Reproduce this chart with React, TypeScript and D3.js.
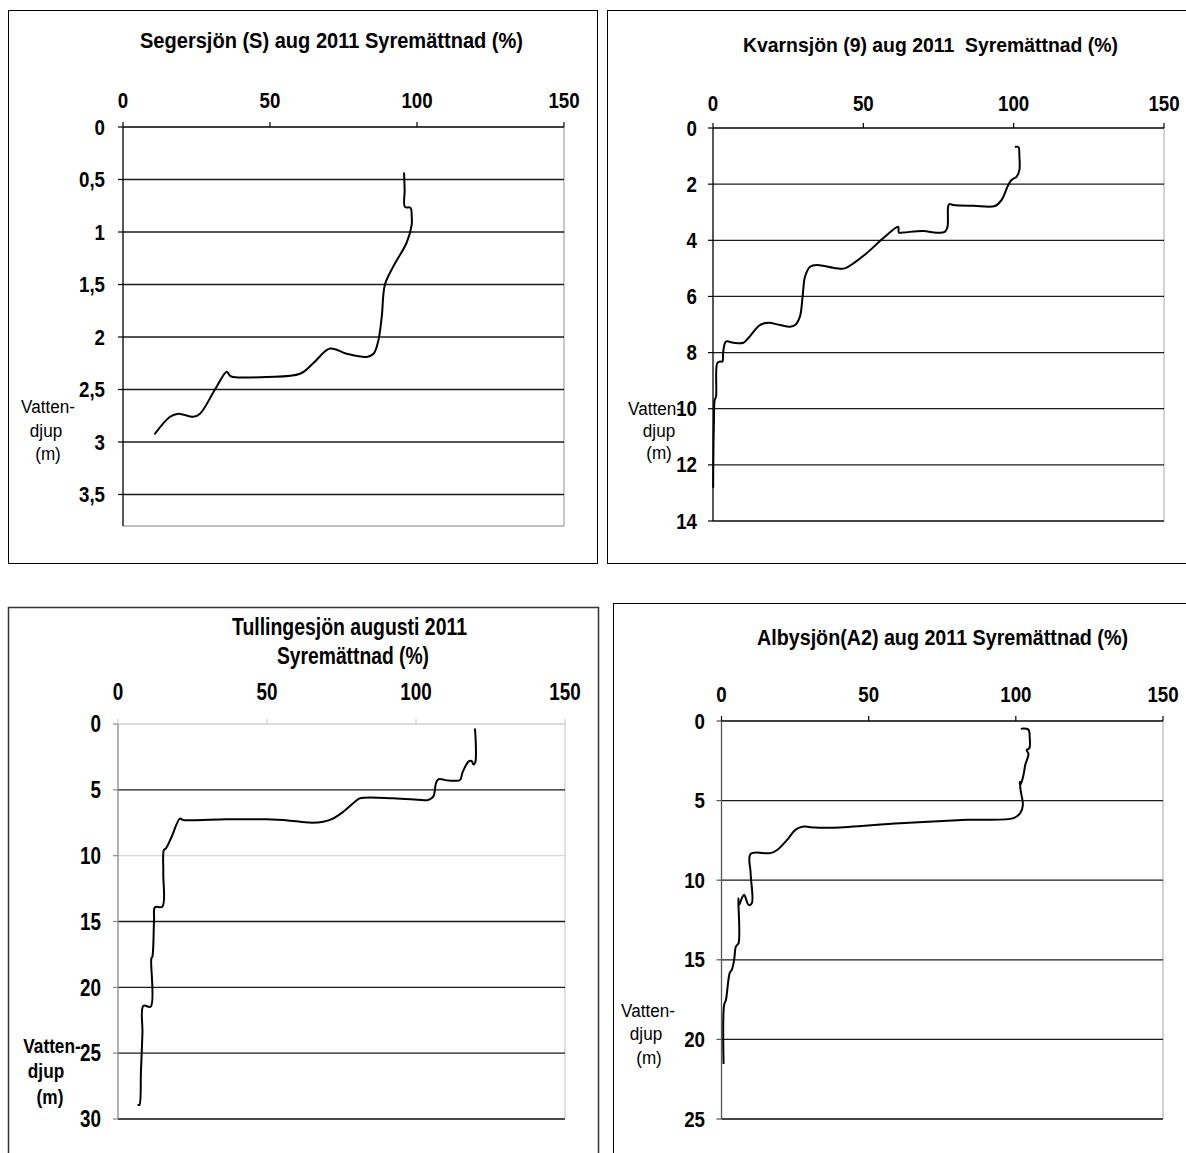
import React from 'react';
import * as d3 from 'd3';

// ---------- data ----------
const xTicks = [0, 50, 100, 150];

const segersjonOxygen = [95.6, 95.8, 95.9, 97.8, 98.2, 98.2, 96.5, 91.9, 89.1, 88.0, 86.8, 85.2, 82.9, 76.1, 70.4, 64.7, 60.2, 48.9, 37.5, 36.4, 35.3, 31.3, 26.2, 23.9, 18.8, 16.0, 10.9];
const segersjonDepth = [0.44, 0.60, 0.76, 0.77, 0.85, 0.93, 1.10, 1.33, 1.50, 1.81, 2.04, 2.16, 2.19, 2.16, 2.11, 2.25, 2.35, 2.38, 2.38, 2.37, 2.33, 2.50, 2.73, 2.76, 2.73, 2.76, 2.92];
const segersjonDepthTicks = [0, 0.5, 1, 1.5, 2, 2.5, 3, 3.5];

const kvarnsjonOxygen = [100.7, 101.6, 101.9, 101.9, 101.0, 99.3, 98.2, 96.0, 93.8, 86.6, 79.9, 78.6, 78.2, 78.0, 77.2, 74.4, 69.9, 63.3, 61.8, 61.6, 56.6, 51.1, 46.7, 43.9, 41.1, 34.5, 32.3, 30.6, 29.8, 28.9, 27.3, 25.6, 22.3, 18.4, 15.6, 11.7, 10.1, 6.8, 4.3, 3.4, 3.1, 2.3, 1.4, 1.0, 0.55, 0.33, 0.1, 0.05];
const kvarnsjonDepth = [0.67, 0.68, 1.0, 1.50, 1.73, 1.85, 2.03, 2.56, 2.78, 2.77, 2.74, 2.71, 2.80, 3.52, 3.69, 3.73, 3.67, 3.72, 3.72, 3.52, 3.93, 4.46, 4.82, 5.0, 5.0, 4.88, 4.94, 5.30, 6.01, 6.72, 7.02, 7.08, 7.02, 6.94, 7.02, 7.49, 7.65, 7.65, 7.61, 7.97, 8.32, 8.32, 8.38, 9.57, 9.69, 10.28, 11.95, 12.8];
const kvarnsjonDepthTicks = [0, 2, 4, 6, 8, 10, 12, 14];

const tullingesjonOxygen = [119.8, 120.1, 119.9, 119.3, 118.6, 117.6, 115.6, 114.8, 113.0, 110.9, 107.5, 106.7, 105.8, 104.1, 101.9, 92.4, 81.2, 79.5, 75.6, 72.3, 68.9, 64.4, 57.7, 49.9, 36.5, 21.9, 20.8, 18.0, 16.1, 15.4, 15.2, 14.9, 12.4, 12.1, 11.5, 11.2, 11.0, 8.5, 8.2, 7.7, 7.2, 6.8];
const tullingesjonDepth = [0.40, 1.8, 2.9, 3.08, 2.80, 2.86, 3.69, 4.25, 4.31, 4.30, 4.20, 4.50, 5.52, 5.77, 5.77, 5.64, 5.64, 5.90, 6.66, 7.16, 7.42, 7.49, 7.34, 7.24, 7.24, 7.29, 7.19, 8.56, 9.44, 9.57, 11.34, 13.87, 13.92, 14.88, 17.71, 17.79, 21.46, 21.41, 23.49, 26.40, 28.93, 28.93];
const tullingesjonDepthTicks = [0, 5, 10, 15, 20, 25, 30];

const albysjonOxygen = [102.0, 104.3, 104.7, 104.6, 103.7, 104.3, 103.2, 102.6, 102.0, 101.5, 101.3, 101.7, 102.4, 101.5, 99.2, 83.4, 60.7, 38.1, 30.2, 27.9, 25.1, 22.3, 18.9, 16.6, 9.9, 9.9, 10.3, 9.2, 7.7, 6.9, 6.0, 5.7, 5.8, 4.9, 4.3, 3.5, 2.8, 1.5, 0.9, 0.7];
const albysjonDepth = [0.48, 0.55, 1.0, 1.71, 1.82, 2.08, 2.76, 3.39, 3.81, 4.02, 3.81, 4.44, 5.27, 5.79, 6.10, 6.21, 6.42, 6.70, 6.67, 6.63, 6.84, 7.47, 8.1, 8.3, 8.35, 9.57, 11.45, 11.55, 10.92, 11.13, 11.55, 11.13, 13.95, 14.16, 15.0, 15.63, 15.82, 17.52, 17.83, 21.49];
const albysjonDepthTicks = [0, 5, 10, 15, 20, 25];

// ---------- helpers ----------
const FONT = "'Liberation Sans', Arial, sans-serif";

type PanelProps = {
  box: { x: number; y: number; w: number; h: number; stroke: string; sw: number };
  plot: { left: number; right: number; top: number; bottom: number };
  yMax: number;
  yTicks: number[];
  oxygen: number[];
  depth: number[];
  gridColor: (t: number) => string;
  axisTopColor: string;
  axisLeftColor: string;
  frameColor: string;
  titles: { text: string; x: number; w: number; y: number; size: number }[];
  xLabelY: number;
  yLabelRight: number;
  tickSize: number;
  tickSx: number;
  vLabels: { text: string; cx: number; y: number }[];
  vBold: boolean;
  vSize: number;
  vSx: number;
};

function Panel(p: PanelProps) {
  const x = d3.scaleLinear().domain([0, 150]).range([p.plot.left, p.plot.right]);
  const y = d3.scaleLinear().domain([0, p.yMax]).range([p.plot.top, p.plot.bottom]);
  const pts: [number, number][] = p.oxygen.map((v, i) => [v, p.depth[i]]);
  const line = d3
    .line<[number, number]>()
    .x((d) => x(d[0]))
    .y((d) => y(d[1]))
    .curve(d3.curveCatmullRom.alpha(0.5));
  const fmt = (t: number) => String(t).replace('.', ',');
  return (
    <g>
      <rect
        x={p.box.x}
        y={p.box.y}
        width={p.box.w}
        height={p.box.h}
        fill="none"
        stroke={p.box.stroke}
        strokeWidth={p.box.sw}
      />
      {/* frame right/bottom */}
      <line x1={p.plot.right} x2={p.plot.right} y1={y(0)} y2={p.plot.bottom} stroke={p.frameColor} strokeWidth={1.3} />
      <line x1={p.plot.left} x2={p.plot.right} y1={p.plot.bottom} y2={p.plot.bottom} stroke={p.frameColor} strokeWidth={1.3} />
      {/* gridlines */}
      {p.yTicks
        .filter((t) => t > 0)
        .map((t) => (
          <line key={'g' + t} x1={p.plot.left} x2={p.plot.right} y1={y(t)} y2={y(t)} stroke={p.gridColor(t)} strokeWidth={1.3} />
        ))}
      {/* y ticks */}
      {p.yTicks.map((t) => (
        <line key={'yt' + t} x1={p.plot.left - 5} x2={p.plot.left} y1={y(t)} y2={y(t)} stroke={p.axisLeftColor} strokeWidth={1.2} />
      ))}
      {/* top axis */}
      <line x1={p.plot.left} x2={p.plot.right} y1={y(0)} y2={y(0)} stroke={p.axisTopColor} strokeWidth={1.3} />
      {xTicks.map((t) => (
        <line key={'xt' + t} x1={x(t)} x2={x(t)} y1={y(0) - 5} y2={y(0)} stroke={p.axisTopColor} strokeWidth={1.2} />
      ))}
      {/* left axis */}
      <line x1={p.plot.left} x2={p.plot.left} y1={y(0)} y2={p.plot.bottom} stroke={p.axisLeftColor} strokeWidth={1.3} />
      {/* tick labels */}
      {xTicks.map((t) => (
        <text
          key={'xl' + t}
          transform={`translate(${x(t)},${p.xLabelY}) scale(${p.tickSx},1)`}
          textAnchor="middle"
          dominantBaseline="central"
          fontFamily={FONT}
          fontWeight="bold"
          fontSize={p.tickSize}
          fill="#000"
        >
          {t}
        </text>
      ))}
      {p.yTicks.map((t) => (
        <text
          key={'yl' + t}
          transform={`translate(${p.yLabelRight},${y(t)}) scale(${p.tickSx},1)`}
          textAnchor="end"
          dominantBaseline="central"
          fontFamily={FONT}
          fontWeight="bold"
          fontSize={p.tickSize}
          fill="#000"
        >
          {fmt(t)}
        </text>
      ))}
      {/* axis title */}
      {p.vLabels.map((l, i) => (
        <text
          key={'v' + i}
          transform={`translate(${l.cx},${l.y}) scale(${p.vSx},1)`}
          textAnchor="middle"
          dominantBaseline="central"
          fontFamily={FONT}
          fontWeight={p.vBold ? 'bold' : 'normal'}
          fontSize={p.vSize}
          fill="#000"
        >
          {l.text}
        </text>
      ))}
      {/* chart title */}
      {p.titles.map((t, i) => (
        <text
          key={'t' + i}
          x={t.x}
          y={t.y}
          textLength={t.w}
          lengthAdjust="spacingAndGlyphs"
          dominantBaseline="central"
          fontFamily={FONT}
          fontWeight="bold"
          fontSize={t.size}
          fill="#000"
          style={{ whiteSpace: 'pre' }}
        >
          {t.text}
        </text>
      ))}
      {/* profile */}
      <path d={line(pts) || ''} fill="none" stroke="#000" strokeWidth={2} strokeLinejoin="round" strokeLinecap="round" />
    </g>
  );
}

export default function App() {
  const dark = () => '#1a1a1a';
  return (
    <svg
      width={1186}
      height={1153}
      style={{ position: 'absolute', left: 0, top: 0, background: '#fff' }}
    >
      <rect x={0} y={0} width={1186} height={1153} fill="#fff" />
      <Panel
        box={{ x: 8.5, y: 10.5, w: 589, h: 553, stroke: '#000', sw: 1 }}
        plot={{ left: 123, right: 564, top: 127, bottom: 526 }}
        yMax={3.8}
        yTicks={segersjonDepthTicks}
        oxygen={segersjonOxygen}
        depth={segersjonDepth}
        gridColor={dark}
        axisTopColor="#000"
        axisLeftColor="#000"
        frameColor="#aaa"
        titles={[{ text: 'Segersjön (S) aug 2011 Syremättnad (%)', x: 140, w: 383, y: 40, size: 22 }]}
        xLabelY={100}
        yLabelRight={105}
        tickSize={22}
        tickSx={0.85}
        vLabels={[
          { text: 'Vatten-', cx: 48, y: 407 },
          { text: 'djup', cx: 46, y: 431 },
          { text: '(m)', cx: 48, y: 454 },
        ]}
        vBold={false}
        vSize={19}
        vSx={0.9}
      />
      <Panel
        box={{ x: 607.5, y: 10.5, w: 600, h: 553, stroke: '#000', sw: 1 }}
        plot={{ left: 713, right: 1164, top: 128, bottom: 521 }}
        yMax={14}
        yTicks={kvarnsjonDepthTicks}
        oxygen={kvarnsjonOxygen}
        depth={kvarnsjonDepth}
        gridColor={dark}
        axisTopColor="#000"
        axisLeftColor="#000"
        frameColor="#bbb"
        titles={[{ text: 'Kvarnsjön (9) aug 2011  Syremättnad (%)', x: 743, w: 375, y: 44, size: 21 }]}
        xLabelY={103}
        yLabelRight={697}
        tickSize={22}
        tickSx={0.85}
        vLabels={[
          { text: 'Vatten-', cx: 655, y: 409 },
          { text: 'djup', cx: 659, y: 431 },
          { text: '(m)', cx: 659, y: 453 },
        ]}
        vBold={false}
        vSize={19}
        vSx={0.9}
      />
      <Panel
        box={{ x: 8.5, y: 607.5, w: 590, h: 600, stroke: '#333', sw: 1.5 }}
        plot={{ left: 118, right: 565, top: 724, bottom: 1119 }}
        yMax={30}
        yTicks={tullingesjonDepthTicks}
        oxygen={tullingesjonOxygen}
        depth={tullingesjonDepth}
        gridColor={(t) => (t === 10 ? '#d9d9d9' : '#1a1a1a')}
        axisTopColor="#cfcfcf"
        axisLeftColor="#888"
        frameColor="#d0d0d0"
        titles={[
          { text: 'Tullingesjön augusti 2011', x: 232, w: 235, y: 627, size: 23 },
          { text: 'Syremättnad (%)', x: 277, w: 152, y: 656, size: 23 },
        ]}
        xLabelY={692}
        yLabelRight={101}
        tickSize={23}
        tickSx={0.82}
        vLabels={[
          { text: 'Vatten-', cx: 52, y: 1046 },
          { text: 'djup', cx: 46, y: 1071 },
          { text: '(m)', cx: 50, y: 1097 },
        ]}
        vBold={true}
        vSize={21}
        vSx={0.82}
      />
      <Panel
        box={{ x: 613.5, y: 603.5, w: 600, h: 600, stroke: '#000', sw: 1 }}
        plot={{ left: 721.5, right: 1163, top: 721, bottom: 1119 }}
        yMax={25}
        yTicks={albysjonDepthTicks}
        oxygen={albysjonOxygen}
        depth={albysjonDepth}
        gridColor={dark}
        axisTopColor="#000"
        axisLeftColor="#555"
        frameColor="#bbb"
        titles={[{ text: 'Albysjön(A2) aug 2011 Syremättnad (%)', x: 757, w: 371, y: 637, size: 22 }]}
        xLabelY={694}
        yLabelRight={705}
        tickSize={22}
        tickSx={0.85}
        vLabels={[
          { text: 'Vatten-', cx: 648, y: 1011 },
          { text: 'djup', cx: 646, y: 1034 },
          { text: '(m)', cx: 649, y: 1058 },
        ]}
        vBold={false}
        vSize={19}
        vSx={0.9}
      />
    </svg>
  );
}
